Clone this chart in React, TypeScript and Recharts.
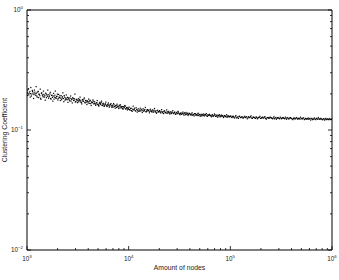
import React from 'react';
import { ScatterChart, Scatter, XAxis, YAxis } from 'recharts';

const nodes1 = [1000, 1012, 1035, 1051, 1077, 1090, 1118, 1134, 1160, 1182, 1201, 1230, 1249, 1275, 1302, 1318, 1350, 1371, 1399, 1430, 1452, 1480, 1511, 1540, 1566, 1601, 1630, 1662, 1695, 1721, 1760, 1795, 1826, 1862, 1900, 1933, 1970, 2010, 2046, 2090, 2128, 2170, 2215, 2254, 2300, 2341, 2390, 2436, 2481, 2530, 2584, 2630, 2684, 2735, 2790, 2846, 2900, 2960, 3018, 3075, 3140, 3199, 3260, 3325, 3390, 3458, 3525, 3590, 3662, 3735, 3808, 3880, 3960, 4036, 4115, 4200, 4280, 4362, 4450, 4540, 4625, 4720, 4810, 4905, 5000, 5100, 5200, 5305, 5410, 5515, 5620, 5735, 5850, 5960, 6080, 6200, 6320, 6445, 6570, 6700, 6835, 6970, 7105, 7245, 7390, 7535, 7680, 7835, 7990, 8145, 8305, 8470, 8640, 8810, 8980, 9160, 9340, 9520, 9710, 9900];
const coef1 = [0.212, 0.194, 0.221, 0.203, 0.188, 0.226, 0.199, 0.209, 0.183, 0.215, 0.201, 0.230, 0.192, 0.207, 0.186, 0.198, 0.219, 0.180, 0.204, 0.193, 0.211, 0.188, 0.177, 0.200, 0.196, 0.215, 0.184, 0.192, 0.206, 0.181, 0.195, 0.174, 0.202, 0.188, 0.211, 0.183, 0.191, 0.178, 0.198, 0.186, 0.176, 0.193, 0.185, 0.204, 0.172, 0.188, 0.181, 0.196, 0.179, 0.170, 0.186, 0.175, 0.192, 0.181, 0.168, 0.183, 0.177, 0.199, 0.172, 0.180, 0.169, 0.182, 0.176, 0.188, 0.171, 0.165, 0.179, 0.174, 0.185, 0.168, 0.176, 0.163, 0.172, 0.181, 0.167, 0.175, 0.160, 0.170, 0.178, 0.165, 0.172, 0.161, 0.168, 0.176, 0.163, 0.158, 0.170, 0.166, 0.174, 0.160, 0.167, 0.157, 0.164, 0.171, 0.159, 0.162, 0.168, 0.155, 0.163, 0.166, 0.154, 0.161, 0.166, 0.157, 0.152, 0.160, 0.164, 0.156, 0.151, 0.159, 0.162, 0.153, 0.157, 0.149, 0.156, 0.160, 0.150, 0.154, 0.147, 0.152];

const nodes2 = [10100, 10330, 10580, 10820, 11070, 11330, 11590, 11860, 12140, 12420, 12710, 13000, 13310, 13620, 13930, 14260, 14590, 14930, 15280, 15630, 16000, 16370, 16750, 17140, 17540, 17950, 18370, 18790, 19230, 19680, 20140, 20610, 21090, 21580, 22080, 22600, 23120, 23660, 24210, 24780, 25350, 25940, 26550, 27160, 27800, 28440, 29100, 29780, 30480, 31190, 31910, 32650, 33410, 34190, 34990, 35810, 36640, 37490, 38360, 39260, 40170, 41110, 42070, 43050, 44050, 45080, 46130, 47200, 48300, 49430, 50580, 51760, 52960, 54200, 55460, 56750, 58070, 59430, 60810, 62230, 63680, 65160, 66680, 68230, 69820, 71450, 73110, 74820, 76560, 78340, 80170, 82040, 83950, 85900, 87900, 89950, 92040, 94190, 96380, 98630];
const coef2 = [0.155, 0.146, 0.152, 0.143, 0.158, 0.149, 0.145, 0.153, 0.141, 0.150, 0.144, 0.152, 0.147, 0.140, 0.150, 0.146, 0.154, 0.142, 0.148, 0.145, 0.139, 0.149, 0.143, 0.147, 0.141, 0.151, 0.144, 0.138, 0.146, 0.142, 0.145, 0.139, 0.148, 0.141, 0.137, 0.144, 0.140, 0.147, 0.138, 0.143, 0.136, 0.142, 0.139, 0.145, 0.137, 0.141, 0.135, 0.140, 0.143, 0.138, 0.134, 0.139, 0.136, 0.141, 0.133, 0.137, 0.140, 0.135, 0.132, 0.138, 0.136, 0.133, 0.139, 0.134, 0.131, 0.137, 0.135, 0.132, 0.138, 0.134, 0.130, 0.135, 0.133, 0.136, 0.131, 0.134, 0.137, 0.130, 0.133, 0.135, 0.132, 0.129, 0.134, 0.131, 0.136, 0.130, 0.133, 0.128, 0.132, 0.134, 0.129, 0.133, 0.131, 0.127, 0.132, 0.130, 0.134, 0.128, 0.131, 0.129];

const nodes3 = [101000, 104000, 107000, 110100, 113300, 116600, 120000, 123500, 127100, 130800, 134600, 138500, 142500, 146700, 151000, 155400, 159900, 164600, 169400, 174300, 179400, 184600, 190000, 195500, 201200, 207100, 213100, 219300, 225700, 232300, 239100, 246000, 253200, 260600, 268200, 276000, 284000, 292300, 300800, 309600, 318600, 327900, 337500, 347300, 357400, 367800, 378500, 389600, 400900, 412600, 424600, 437000, 449700, 462800, 476300, 490200, 504500, 519200, 534300, 549900, 565900, 582400, 599400, 616900, 634900, 653400, 672400, 692000, 712200, 733000, 754300, 776300, 798900, 822200, 846200, 870800, 896200, 922300, 949200, 976900];
const coef3 = [0.131, 0.127, 0.130, 0.126, 0.132, 0.128, 0.125, 0.130, 0.127, 0.129, 0.126, 0.130, 0.128, 0.124, 0.129, 0.127, 0.131, 0.125, 0.128, 0.126, 0.129, 0.124, 0.127, 0.130, 0.125, 0.128, 0.126, 0.129, 0.123, 0.127, 0.125, 0.128, 0.126, 0.124, 0.129, 0.126, 0.123, 0.127, 0.125, 0.128, 0.124, 0.127, 0.125, 0.128, 0.123, 0.126, 0.124, 0.127, 0.125, 0.122, 0.126, 0.124, 0.127, 0.123, 0.125, 0.128, 0.124, 0.126, 0.122, 0.125, 0.123, 0.126, 0.124, 0.121, 0.125, 0.123, 0.126, 0.122, 0.124, 0.127, 0.123, 0.125, 0.122, 0.124, 0.121, 0.125, 0.123, 0.122, 0.124, 0.123];

const nodes4 = [1006, 1024, 1043, 1066, 1083, 1104, 1127, 1149, 1171, 1193, 1216, 1240, 1262, 1289, 1310, 1336, 1362, 1386, 1415, 1441, 1467, 1497, 1526, 1553, 1585, 1616, 1647, 1679, 1709, 1742, 1779, 1811, 1845, 1881, 1917, 1952, 1991, 2028, 2068, 2109, 2150, 2192, 2236, 2279, 2322, 2366, 2413, 2459, 2506, 2558, 2607, 2658, 2711, 2763, 2818, 2873, 2931, 2990, 3047, 3108, 3170, 3230, 3293, 3357, 3424, 3492, 3558, 3627, 3700, 3772, 3845, 3920, 3998, 4076, 4158, 4240, 4321, 4406, 4495, 4583, 4673, 4766, 4858, 4953, 5050, 5150, 5252, 5357, 5463, 5568, 5678, 5793, 5905, 6020, 6140, 6260, 6383, 6508, 6635, 6768, 6902, 7038, 7175, 7318, 7462, 7608, 7758, 7912, 8068, 8225, 8388, 8555, 8725, 8895, 9070, 9250, 9430, 9615, 9805, 9950];
const coef4 = [0.205, 0.217, 0.196, 0.209, 0.201, 0.192, 0.214, 0.203, 0.197, 0.207, 0.195, 0.203, 0.188, 0.210, 0.199, 0.193, 0.184, 0.202, 0.196, 0.189, 0.198, 0.193, 0.203, 0.186, 0.191, 0.197, 0.189, 0.200, 0.183, 0.194, 0.187, 0.192, 0.181, 0.195, 0.186, 0.190, 0.199, 0.183, 0.188, 0.193, 0.184, 0.179, 0.189, 0.183, 0.194, 0.177, 0.185, 0.181, 0.187, 0.182, 0.178, 0.184, 0.174, 0.180, 0.186, 0.176, 0.182, 0.171, 0.179, 0.175, 0.177, 0.172, 0.180, 0.175, 0.169, 0.178, 0.173, 0.181, 0.170, 0.176, 0.171, 0.175, 0.168, 0.173, 0.177, 0.166, 0.171, 0.169, 0.174, 0.167, 0.166, 0.162, 0.169, 0.164, 0.160, 0.167, 0.163, 0.170, 0.161, 0.165, 0.162, 0.159, 0.165, 0.161, 0.157, 0.164, 0.160, 0.158, 0.163, 0.159, 0.158, 0.155, 0.162, 0.157, 0.160, 0.154, 0.158, 0.156, 0.161, 0.153, 0.157, 0.155, 0.151, 0.156, 0.153, 0.158, 0.150, 0.154, 0.152, 0.149];

const nodes5 = [10210, 10470, 10700, 10950, 11200, 11460, 11730, 12000, 12280, 12570, 12860, 13160, 13460, 13780, 14100, 14420, 14760, 15100, 15450, 15810, 16180, 16560, 16950, 17340, 17750, 18160, 18580, 19010, 19450, 19910, 20370, 20850, 21340, 21830, 22340, 22860, 23390, 23930, 24490, 25060, 25640, 26240, 26850, 27480, 28120, 28770, 29440, 30130, 30830, 31550, 32280, 33030, 33800, 34590, 35400, 36220, 37060, 37920, 38810, 39710, 40640, 41580, 42560, 43550, 44560, 45600, 46660, 47750, 48860, 50000, 51170, 52360, 53580, 54830, 56100, 57410, 58750, 60120, 61520, 62960, 64420, 65920, 67450, 69020, 70630, 72270, 73960, 75680, 77440, 79250, 81100, 82990, 84920, 86900, 88920, 91000, 93100, 95300, 97500, 99700];
const coef5 = [0.148, 0.151, 0.145, 0.149, 0.147, 0.152, 0.144, 0.148, 0.146, 0.143, 0.147, 0.144, 0.149, 0.145, 0.143, 0.148, 0.142, 0.146, 0.144, 0.147, 0.143, 0.145, 0.141, 0.144, 0.146, 0.142, 0.140, 0.145, 0.141, 0.143, 0.141, 0.143, 0.139, 0.142, 0.144, 0.140, 0.138, 0.142, 0.140, 0.139, 0.139, 0.137, 0.141, 0.138, 0.140, 0.136, 0.139, 0.137, 0.141, 0.136, 0.137, 0.135, 0.138, 0.136, 0.139, 0.134, 0.136, 0.138, 0.135, 0.137, 0.134, 0.136, 0.133, 0.135, 0.137, 0.133, 0.134, 0.136, 0.132, 0.135, 0.133, 0.131, 0.134, 0.132, 0.135, 0.133, 0.131, 0.134, 0.132, 0.133, 0.131, 0.133, 0.130, 0.132, 0.134, 0.130, 0.131, 0.133, 0.129, 0.132, 0.130, 0.132, 0.129, 0.131, 0.130, 0.128, 0.131, 0.130, 0.129, 0.130];

const nodes6 = [102500, 105400, 108500, 111700, 115000, 118300, 121700, 125300, 128900, 132700, 136500, 140500, 144600, 148800, 153200, 157600, 162200, 167000, 171800, 176800, 182000, 187300, 192700, 198300, 204100, 210100, 216200, 222500, 229000, 235700, 242500, 249600, 256900, 264400, 272100, 280000, 288200, 296600, 305200, 314100, 323300, 332700, 342400, 352400, 362600, 373200, 384100, 395300, 406800, 418600, 430800, 443400, 456300, 469600, 483300, 497400, 511900, 526800, 542100, 557900, 574100, 590800, 608100, 625800, 644000, 662800, 682100, 702000, 722500, 743600, 765200, 787500, 810500, 834100, 858400, 883400, 909100, 935600, 962900, 990000];
const coef6 = [0.128, 0.130, 0.127, 0.129, 0.126, 0.128, 0.130, 0.127, 0.128, 0.126, 0.128, 0.127, 0.129, 0.126, 0.127, 0.129, 0.126, 0.128, 0.127, 0.125, 0.127, 0.126, 0.128, 0.125, 0.127, 0.126, 0.128, 0.125, 0.126, 0.127, 0.126, 0.127, 0.125, 0.126, 0.124, 0.127, 0.125, 0.126, 0.124, 0.126, 0.125, 0.126, 0.124, 0.125, 0.127, 0.124, 0.126, 0.125, 0.123, 0.125, 0.124, 0.126, 0.124, 0.125, 0.123, 0.125, 0.124, 0.126, 0.123, 0.124, 0.124, 0.123, 0.125, 0.124, 0.122, 0.124, 0.123, 0.125, 0.123, 0.124, 0.123, 0.124, 0.122, 0.124, 0.123, 0.122, 0.124, 0.123, 0.122, 0.123];

const xTicks = [1000, 2000, 3000, 4000, 5000, 6000, 7000, 8000, 9000, 10000, 20000, 30000, 40000, 50000, 60000, 70000, 80000, 90000, 100000, 200000, 300000, 400000, 500000, 600000, 700000, 800000, 900000, 1000000];
const yTicks = [0.01, 0.02, 0.03, 0.04, 0.05, 0.06, 0.07, 0.08, 0.09, 0.1, 0.2, 0.3, 0.4, 0.5, 0.6, 0.7, 0.8, 0.9, 1];

const xLabel = 'Amount of nodes';
const yLabel = 'Clustering Coefficient';

const allNodes = [...nodes1, ...nodes2, ...nodes3, ...nodes4, ...nodes5, ...nodes6];
const allCoef = [...coef1, ...coef2, ...coef3, ...coef4, ...coef5, ...coef6];
const data = allNodes.map((n, i) => ({ n, c: allCoef[i] }));

const FONT = '"Liberation Sans", Arial, sans-serif';
const isMajor = (v: number) => Math.abs(Math.log10(v) - Math.round(Math.log10(v))) < 1e-6;
const expOf = (v: number) => {
  const e = Math.round(Math.log10(v));
  return e < 0 ? '\u2212' + Math.abs(e) : String(e);
};

const Pow = ({ x, y, v, anchor }: any) => (
  <text x={x} y={y} textAnchor={anchor} fontSize={6.3} fontFamily={FONT} fill="#222">
    <tspan>10</tspan>
    <tspan dy={-3} fontSize={4.4}>{expOf(v)}</tspan>
  </text>
);

const BottomTick = (p: any) => {
  const { x, y, payload } = p;
  const v = payload.value;
  const major = isMajor(v);
  return (
    <g>
      <line x1={x} x2={x} y1={y} y2={y - (major ? 4 : 2)} stroke="#000" strokeWidth={0.8} />
      {major && <Pow x={x} y={y + 11} v={v} anchor="middle" />}
    </g>
  );
};

const TopTick = (p: any) => {
  const { x, y, payload } = p;
  const major = isMajor(payload.value);
  return <line x1={x} x2={x} y1={y} y2={y + (major ? 4 : 2)} stroke="#000" strokeWidth={0.8} />;
};

const LeftTick = (p: any) => {
  const { x, y, payload } = p;
  const v = payload.value;
  const major = isMajor(v);
  return (
    <g>
      <line x1={x} x2={x + (major ? 4 : 2)} y1={y} y2={y} stroke="#000" strokeWidth={0.8} />
      {major && <Pow x={x - 4} y={y + 2} v={v} anchor="end" />}
    </g>
  );
};

const RightTick = (p: any) => {
  const { x, y, payload } = p;
  const major = isMajor(payload.value);
  return <line x1={x} x2={x - (major ? 4 : 2)} y1={y} y2={y} stroke="#000" strokeWidth={0.8} />;
};

const Dot = (p: any) => <rect x={p.cx - 0.6} y={p.cy - 0.6} width={1.2} height={1.2} fill="#000" />;

const XLabelContent = (p: any) => {
  const vb = p.viewBox || {};
  return (
    <text x={vb.x + vb.width / 2} y={vb.y + 20} textAnchor="middle" fontSize={6.8} fontFamily={FONT} fill="#222">
      {xLabel}
    </text>
  );
};

const YLabelContent = (p: any) => {
  const vb = p.viewBox || {};
  const cx = vb.x + 7;
  const cy = vb.y + vb.height / 2;
  return (
    <text x={cx} y={cy} textAnchor="middle" fontSize={6.8} fontFamily={FONT} fill="#222" transform={`rotate(-90 ${cx} ${cy})`}>
      {yLabel}
    </text>
  );
};

export default function App() {
  return (
    <div style={{ position: 'absolute', left: 0, top: 0, width: 339, height: 280, background: '#fff' }}>
      <ScatterChart width={339} height={280} margin={{ top: 0, right: 0, bottom: 0, left: 0 }}>
        <XAxis
          dataKey="n"
          type="number"
          scale="log"
          domain={[1000, 1000000]}
          allowDataOverflow
          ticks={xTicks}
          interval={0}
          tickLine={false}
          tickSize={0}
          tickMargin={0}
          height={30}
          axisLine={{ stroke: '#000', strokeWidth: 1 }}
          tick={<BottomTick />}
          label={{ content: <XLabelContent /> }}
        />
        <XAxis
          xAxisId="top"
          orientation="top"
          type="number"
          scale="log"
          domain={[1000, 1000000]}
          allowDataOverflow
          ticks={xTicks}
          interval={0}
          tickLine={false}
          tickSize={0}
          tickMargin={0}
          height={10}
          axisLine={{ stroke: '#000', strokeWidth: 1 }}
          tick={<TopTick />}
        />
        <YAxis
          dataKey="c"
          type="number"
          scale="log"
          domain={[0.01, 1]}
          allowDataOverflow
          ticks={yTicks}
          interval={0}
          tickLine={false}
          tickSize={0}
          tickMargin={0}
          width={27}
          axisLine={{ stroke: '#000', strokeWidth: 1 }}
          tick={<LeftTick />}
          label={{ content: <YLabelContent /> }}
        />
        <YAxis
          yAxisId="right"
          orientation="right"
          type="number"
          scale="log"
          domain={[0.01, 1]}
          allowDataOverflow
          ticks={yTicks}
          interval={0}
          tickLine={false}
          tickSize={0}
          tickMargin={0}
          width={7}
          axisLine={{ stroke: '#000', strokeWidth: 1 }}
          tick={<RightTick />}
        />
        <Scatter data={data} isAnimationActive={false} shape={<Dot />} />
      </ScatterChart>
    </div>
  );
}
